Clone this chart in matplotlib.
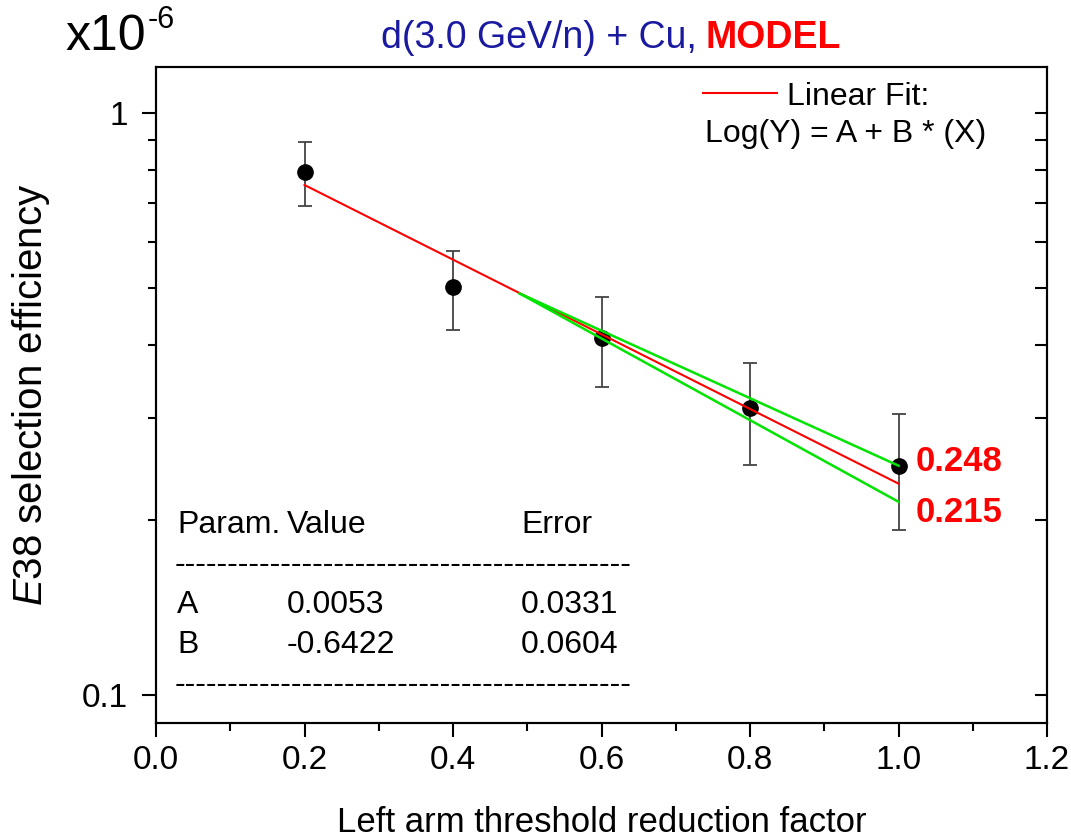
import matplotlib
matplotlib.use("Agg")
import matplotlib.pyplot as plt
from matplotlib.lines import Line2D
from matplotlib.ticker import FixedLocator, FixedFormatter, NullFormatter

plt.rcParams['font.family'] = ['Liberation Sans', 'DejaVu Sans']
plt.rcParams['mathtext.fontset'] = 'custom'
plt.rcParams['mathtext.rm'] = 'Liberation Sans'
plt.rcParams['mathtext.it'] = 'Liberation Sans:italic'

# data (units of 1e-6)
factor = [0.2, 0.4, 0.6, 0.8, 1.0]
efficiency = [0.793, 0.503, 0.411, 0.311, 0.248]
eff_err = [0.100, 0.078, 0.072, 0.062, 0.056]

# linear fit in log(Y) and its error band
fit_x = [0.2, 1.0]
fit_y = [0.753, 0.231]
band_x = [0.49, 1.0]
band_upper = [0.490, 0.248]
band_lower = [0.490, 0.215]

param_names = ['A', 'B']
param_values = ['0.0053', '-0.6422']
param_errors = ['0.0331', '0.0604']

x_ticks = [0.0, 0.2, 0.4, 0.6, 0.8, 1.0, 1.2]
x_minor = [0.1, 0.3, 0.5, 0.7, 0.9, 1.1]
y_ticks = [0.1, 1.0]
y_tick_labels = ['0.1', '1']
y_minor = [0.2, 0.3, 0.4, 0.5, 0.6, 0.7, 0.8, 0.9]

W, H = 1071, 838
fig = plt.figure(figsize=(W / 100, H / 100), dpi=100)


def px(x, y):
    return x / W, 1 - y / H


ax = fig.add_axes([156 / W, 1 - 722.7 / H, (1047 - 156) / W, (722.7 - 67) / H])
ax.set_yscale('log')
ax.set_xlim(0.0, 1.2)
ax.set_ylim(0.0897, 1.201)

ax.errorbar(factor, efficiency, yerr=eff_err, fmt='none', ecolor='#444444',
            elinewidth=1.3, capsize=5, capthick=1.3, zorder=2)
ax.plot(factor, efficiency, 'o', color='black', ms=11, zorder=3)
ax.plot(fit_x, fit_y, color='red', lw=1.5, zorder=4)
ax.plot(band_x, band_upper, color='#00e400', lw=1.8, zorder=4)
ax.plot(band_x, band_lower, color='#00e400', lw=1.8, zorder=4)

ax.xaxis.set_major_locator(FixedLocator(x_ticks))
ax.xaxis.set_minor_locator(FixedLocator(x_minor))
ax.xaxis.set_major_formatter(FixedFormatter([f'{v:.1f}' for v in x_ticks]))
ax.yaxis.set_major_locator(FixedLocator(y_ticks))
ax.yaxis.set_major_formatter(FixedFormatter(y_tick_labels))
ax.yaxis.set_minor_locator(FixedLocator(y_minor))
ax.yaxis.set_minor_formatter(NullFormatter())

for s in ax.spines.values():
    s.set_linewidth(1.5)
ax.tick_params(which='both', direction='out', top=False, right=False, width=1.5)
ax.tick_params(which='major', length=10, labelsize=24)
ax.tick_params(which='minor', length=6)
ax.tick_params(axis='x', which='major', pad=6)
ax.tick_params(axis='y', which='major', pad=10)

# right side ticks point inward
ax2 = ax.twinx()
ax2.set_yscale('log')
ax2.set_ylim(ax.get_ylim())
ax2.yaxis.set_major_locator(FixedLocator(y_ticks))
ax2.yaxis.set_minor_locator(FixedLocator(y_minor))
ax2.yaxis.set_major_formatter(NullFormatter())
ax2.yaxis.set_minor_formatter(NullFormatter())
ax2.tick_params(which='both', direction='in', width=1.5, length=9)
for s in ax2.spines.values():
    s.set_linewidth(1.5)

ax.set_xlabel('Left arm threshold reduction factor', fontsize=25, labelpad=22)
ax.set_ylabel(r'$\it{E38}$ selection efficiency', fontsize=29, labelpad=22)

# scale factor and title
fig.text(*px(65, 50), 'x10', fontsize=36, va='baseline', ha='left')
fig.text(*px(148, 28), '-6', fontsize=22, va='baseline', ha='left')
fig.text(*px(697, 48), 'd(3.0 GeV/n) + Cu,', fontsize=27, color='#1a1aa0',
         va='baseline', ha='right')
fig.text(*px(705, 48), 'MODEL', fontsize=27, color='red', fontweight='bold',
         va='baseline', ha='left')

# legend
fig.add_artist(Line2D([703 / W, 777 / W], [1 - 93 / H, 1 - 93 / H], color='red', lw=1.5))
fig.text(*px(787, 105), 'Linear Fit:', fontsize=23, va='baseline')
fig.text(*px(705, 142), 'Log(Y) = A + B * (X)', fontsize=23, va='baseline')

# fit values at X = 1
ax.annotate('0.248', (band_x[-1], band_upper[-1]), xytext=(12, 3), textcoords='offset points',
            color='red', fontsize=25, fontweight='bold', va='center')
ax.annotate('0.215', (band_x[-1], band_lower[-1]), xytext=(12, -8), textcoords='offset points',
            color='red', fontsize=25, fontweight='bold', va='center')

# parameter table
cols = [177, 287, 521]
fig.text(*px(cols[0], 533), 'Param.', fontsize=23, va='baseline')
fig.text(*px(cols[1], 533), 'Value', fontsize=23, va='baseline')
fig.text(*px(cols[2], 533), 'Error', fontsize=23, va='baseline')
fig.text(*px(175, 565), '-' * 43, fontsize=23, va='center')
for i, name in enumerate(param_names):
    yb = 613 + 40 * i
    fig.text(*px(cols[0], yb), name, fontsize=23, va='baseline')
    fig.text(*px(cols[1], yb), param_values[i], fontsize=23, va='baseline')
    fig.text(*px(cols[2], yb), param_errors[i], fontsize=23, va='baseline')
fig.text(*px(175, 685), '-' * 43, fontsize=23, va='center')

fig.savefig('out.png', dpi=100)
